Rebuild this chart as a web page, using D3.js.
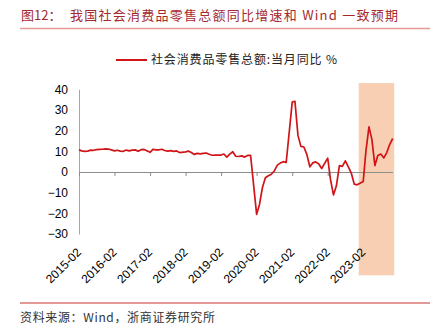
<!DOCTYPE html>
<html>
<head>
<meta charset="utf-8">
<script src="https://cdn.jsdelivr.net/npm/d3@7"></script>
<style>
  html, body { margin: 0; padding: 0; background: #fff; }
  svg { display: block; }
  text { font-family: "Liberation Sans", Arial, sans-serif; }
  .cjk { font-family: "Noto Sans CJK SC", sans-serif; }
</style>
</head>
<body>
<svg id="chart" width="437" height="330"></svg>
<script>
// Monthly retail sales YoY (%); January is reported together with February, so each year starts in Feb.
const months = [
  "2015-02","2015-03","2015-04","2015-05","2015-06","2015-07","2015-08","2015-09","2015-10","2015-11","2015-12",
  "2016-02","2016-03","2016-04","2016-05","2016-06","2016-07","2016-08","2016-09","2016-10","2016-11","2016-12",
  "2017-02","2017-03","2017-04","2017-05","2017-06","2017-07","2017-08","2017-09","2017-10","2017-11","2017-12",
  "2018-02","2018-03","2018-04","2018-05","2018-06","2018-07","2018-08","2018-09","2018-10","2018-11","2018-12",
  "2019-02","2019-03","2019-04","2019-05","2019-06","2019-07","2019-08","2019-09","2019-10","2019-11","2019-12",
  "2020-02","2020-03","2020-04","2020-05","2020-06","2020-07","2020-08","2020-09","2020-10","2020-11","2020-12",
  "2021-02","2021-03","2021-04","2021-05","2021-06","2021-07","2021-08","2021-09","2021-10","2021-11","2021-12",
  "2022-02","2022-03","2022-04","2022-05","2022-06","2022-07","2022-08","2022-09","2022-10","2022-11","2022-12",
  "2023-02","2023-03","2023-04","2023-05","2023-06","2023-07","2023-08","2023-09","2023-10","2023-11","2023-12"
];
const retailYoY = [
  10.7, 10.2, 10.0, 10.1, 10.6, 10.5, 10.8, 10.9, 11.0, 11.2, 11.1,
  10.2, 10.5, 10.1, 10.0, 10.6, 10.2, 10.6, 10.7, 10.0, 10.8, 10.9,
  9.5, 10.9, 10.7, 10.7, 11.0, 10.4, 10.1, 10.3, 10.0, 10.2, 9.4,
  9.7, 10.1, 9.4, 8.5, 9.0, 8.8, 9.0, 9.2, 8.6, 8.1, 8.2,
  8.2, 8.7, 7.2, 8.6, 9.8, 7.6, 7.5, 7.8, 7.2, 8.0, 8.0,
  -20.5, -15.8, -7.5, -2.8, -1.8, -1.1, 0.5, 3.3, 4.3, 5.0, 4.6,
  33.8, 34.2, 17.7, 12.4, 12.1, 8.5, 2.5, 4.4, 4.9, 3.9, 1.7,
  6.7, -3.5, -11.1, -6.7, 3.1, 2.7, 5.4, 2.5, -0.5, -5.9, -6.2,
  -4.6, 10.2, 21.8, 15.8, 3.1, 8.0, 8.7, 6.8, 9.4, 13.4, 16.2
];
const xTickLabels = ["2015-02","2016-02","2017-02","2018-02","2019-02","2020-02","2021-02","2022-02","2023-02"];
const yTicks = [-30, -20, -10, 0, 10, 20, 30, 40];
// Wind consensus forecast window and the value span its band covers
const forecastMonths = ["2023-01", "2023-12"];
const forecastBand = [-50, 43];

const titleLabel = "图12：";
const titleText = "我国社会消费品零售总额同比增速和 Wind 一致预期";
const legendText = "社会消费品零售总额:当月同比 %";
const sourceText = "资料来源：Wind，浙商证券研究所";

const svg = d3.select("#chart");
const parse = d3.utcParse("%Y-%m");
const fmt = d3.utcFormat("%Y-%m");

const data = months.map((m, i) => ({ date: parse(m), value: retailYoY[i] }));

const x = d3.scaleUtc()
  .domain([parse(months[0]), parse(months[months.length - 1])])
  .range([79, 392.7]);
const y = d3.scaleLinear().domain([-30, 40]).range([234, 89.3]);

// Title and rule under it
svg.append("text").attr("class", "cjk")
  .attr("x", 21).attr("y", 20)
  .attr("font-size", 13).attr("fill", "#a52a2f")
  .text(titleLabel);
svg.append("text").attr("class", "cjk")
  .attr("x", 70).attr("y", 20)
  .attr("font-size", 13).attr("fill", "#a52a2f")
  .attr("textLength", 328).attr("lengthAdjust", "spacing")
  .text(titleText);
svg.append("line")
  .attr("x1", 20).attr("x2", 430).attr("y1", 28.5).attr("y2", 28.5)
  .attr("stroke", "#e59a95").attr("stroke-width", 1.5);

// Forecast shading
const fStart = parse(forecastMonths[0]);
const fEnd = parse(forecastMonths[1]);
const bandLeft = (x(fStart) + x(d3.utcMonth.offset(fStart, -1))) / 2;
const bandRight = (x(fEnd) + x(d3.utcMonth.offset(fEnd, 1))) / 2;
svg.append("rect")
  .attr("x", bandLeft).attr("width", bandRight - bandLeft)
  .attr("y", y(forecastBand[1])).attr("height", y(forecastBand[0]) - y(forecastBand[1]))
  .attr("fill", "#f8cfb2");

// Y axis: line plus labels, no tick marks
const yAxis = svg.append("g")
  .attr("transform", `translate(${x.range()[0]},0)`)
  .call(d3.axisLeft(y).tickValues(yTicks).tickSize(0).tickPadding(11).tickFormat(d3.format("d")));
yAxis.select(".domain").attr("stroke", "#a6a6a6");
yAxis.selectAll("text").attr("font-size", 12).attr("fill", "#000")
  .attr("font-family", "'Liberation Sans', Arial, sans-serif");

// Zero line with yearly ticks
const tickDates = xTickLabels.map(parse);
const xAxis = svg.append("g")
  .attr("transform", `translate(0,${y(0)})`)
  .call(d3.axisBottom(x).tickValues(tickDates).tickSize(4).tickSizeOuter(0).tickFormat(""));
xAxis.select(".domain").attr("stroke", "#8c8c8c");
xAxis.selectAll(".tick line").attr("stroke", "#8c8c8c");

// Rotated date labels along the bottom
svg.append("g").selectAll("text")
  .data(tickDates)
  .join("text")
  .attr("transform", d => `translate(${x(d)},250) rotate(-45)`)
  .attr("text-anchor", "end")
  .attr("dy", "0.35em")
  .attr("font-size", 12)
  .attr("fill", "#000")
  .text(d => fmt(d));

// Series line
const line = d3.line().x(d => x(d.date)).y(d => y(d.value));
svg.append("path")
  .datum(data)
  .attr("d", line)
  .attr("fill", "none")
  .attr("stroke", "#d01418")
  .attr("stroke-width", 1.7)
  .attr("stroke-linejoin", "round");

// Legend
svg.append("line")
  .attr("x1", 116).attr("x2", 147).attr("y1", 60).attr("y2", 60)
  .attr("stroke", "#d01418").attr("stroke-width", 2);
svg.append("text").attr("class", "cjk")
  .attr("x", 151).attr("y", 60).attr("dy", "0.36em")
  .attr("font-size", 12).attr("fill", "#222")
  .attr("textLength", 186).attr("lengthAdjust", "spacing")
  .text(legendText);

// Footer rule and source note
svg.append("line")
  .attr("x1", 20).attr("x2", 430).attr("y1", 303).attr("y2", 303)
  .attr("stroke", "#c8302e").attr("stroke-width", 1);
svg.append("text").attr("class", "cjk")
  .attr("x", 20).attr("y", 322)
  .attr("font-size", 12).attr("fill", "#333")
  .attr("textLength", 195).attr("lengthAdjust", "spacing")
  .text(sourceText);
</script>
</body>
</html>
